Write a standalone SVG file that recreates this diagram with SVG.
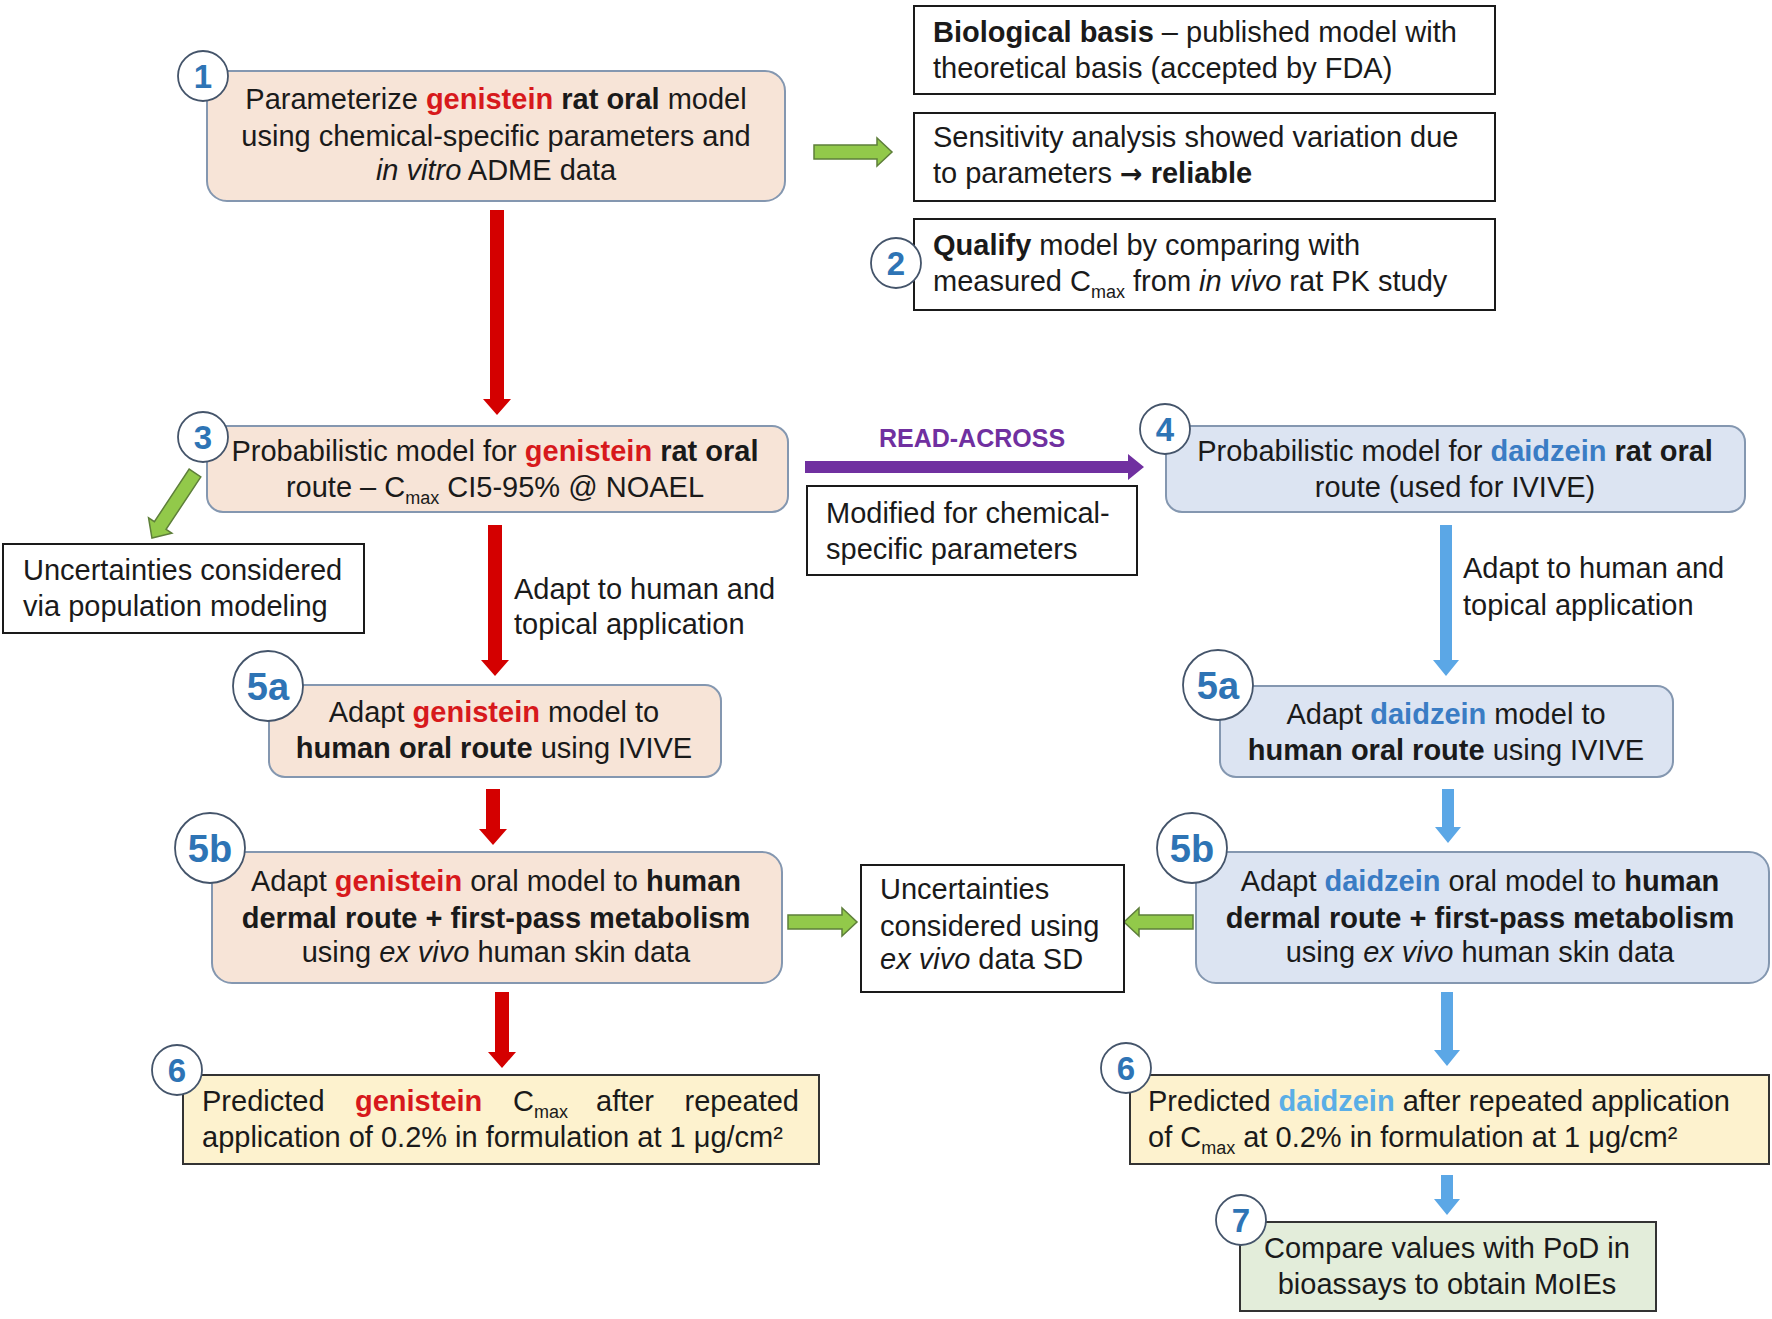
<svg xmlns="http://www.w3.org/2000/svg" width="1772" height="1319" viewBox="0 0 1772 1319">
<style>
  text { font-family: "Liberation Sans", Arial, sans-serif; font-size: 29px; fill: #1a1a1a; }
  .b { font-weight: bold; }
  .i { font-style: italic; }
  .gen { font-weight: bold; fill: #D7191C; }
  .dai { font-weight: bold; fill: #3A7CC4; }
  .dai2 { font-weight: bold; fill: #5AAEE6; }
  .sub { font-size: 18px; }
  .gbox { fill: #F7E4D7; stroke: #8497B0; stroke-width: 2; }
  .dbox { fill: #DCE4F2; stroke: #8497B0; stroke-width: 2; }
  .wbox { fill: #FFFFFF; stroke: #1a1a1a; stroke-width: 2; }
  .ybox { fill: #FDF2CE; stroke: #333333; stroke-width: 2; }
  .lbox { fill: #E3EDDA; stroke: #333333; stroke-width: 2; }
  .circ { fill: #FFFFFF; stroke: #44546A; stroke-width: 1.8; }
  .num { font-weight: bold; fill: #2E74B5; font-size: 33px; text-anchor: middle; }
  .num2 { font-weight: bold; fill: #2E74B5; font-size: 38px; text-anchor: middle; }
  .red { fill: #D40000; }
  .blue { fill: #5BA7E6; }
  .green { fill: #92C94A; stroke: #5E7F3A; stroke-width: 1.5; }
  .purple { fill: #7030A0; }
  .mid { text-anchor: middle; }
</style>

<g id="connectors">
  <!-- red arrows -->
  <polygon class="red" points="490,210 504,210 504,399 511,399 497,415 483,399 490,399"/>
  <polygon class="red" points="488,525 502,525 502,660 509,660 495,676 481,660 488,660"/>
  <polygon class="red" points="486,789 500,789 500,829 507,829 493,845 479,829 486,829"/>
  <polygon class="red" points="495,992 509,992 509,1052 516,1052 502,1068 488,1052 495,1052"/>
  <!-- blue arrows -->
  <polygon class="blue" points="1440,525 1452,525 1452,660 1459,660 1446,676 1433,660 1440,660"/>
  <polygon class="blue" points="1442,789 1454,789 1454,827 1461,827 1448,843 1435,827 1442,827"/>
  <polygon class="blue" points="1441,992 1453,992 1453,1050 1460,1050 1447,1066 1434,1050 1441,1050"/>
  <polygon class="blue" points="1441,1175 1453,1175 1453,1199 1460,1199 1447,1215 1434,1199 1441,1199"/>
  <!-- purple read-across -->
  <polygon class="purple" points="805,461 1128,461 1128,454 1144,467 1128,480 1128,473 805,473"/>
  <text x="972" y="447" class="b mid" style="fill:#7030A0;font-size:25px">READ-ACROSS</text>
  <!-- green arrows -->
  <polygon class="green" points="814,145 877,145 877,138 892,152 877,166 877,159 814,159"/>
  <polygon class="green" transform="translate(195,473) rotate(123.5)" points="0,-7 63,-7 63,-14 78,0 63,14 63,7 0,7"/>
  <polygon class="green" points="788,915 842,915 842,908 857,922 842,936 842,929 788,929"/>
  <polygon class="green" points="1193,915 1139,915 1139,908 1124,922 1139,936 1139,929 1193,929"/>
</g>

<g id="node1">
  <rect class="gbox" x="207" y="71" width="578" height="130" rx="20"/>
  <text x="496" y="109" class="mid">Parameterize <tspan class="gen">genistein</tspan> <tspan class="b">rat oral</tspan> model</text>
  <text x="496" y="146" class="mid">using chemical-specific parameters and</text>
  <text x="496" y="180" class="mid"><tspan class="i">in vitro</tspan> ADME  data</text>
  <circle class="circ" cx="203" cy="76" r="25"/>
  <text x="203" y="88" class="num">1</text>
</g>

<g id="bio">
  <rect class="wbox" x="914" y="6" width="581" height="88"/>
  <text x="933" y="42"><tspan class="b">Biological basis</tspan> – published model with</text>
  <text x="933" y="78">theoretical basis (accepted by FDA)</text>
</g>

<g id="sens">
  <rect class="wbox" x="914" y="113" width="581" height="88"/>
  <text x="933" y="147">Sensitivity analysis showed variation due</text>
  <text x="933" y="183">to parameters <tspan class="b" style="font-family:'DejaVu Sans',sans-serif;font-size:27px">→</tspan> <tspan class="b">reliable</tspan></text>
</g>

<g id="node2">
  <rect class="wbox" x="914" y="219" width="581" height="91"/>
  <text x="933" y="255"><tspan class="b">Qualify</tspan> model by comparing with</text>
  <text x="933" y="291">measured C<tspan class="sub" dy="7">max</tspan><tspan dy="-7"> from </tspan><tspan class="i">in vivo</tspan> rat PK study</text>
  <circle class="circ" cx="896" cy="263" r="25"/>
  <text x="896" y="275" class="num">2</text>
</g>

<g id="node3">
  <rect class="gbox" x="207" y="426" width="581" height="86" rx="16"/>
  <text x="495" y="461" class="mid">Probabilistic model for <tspan class="gen">genistein</tspan> <tspan class="b">rat oral</tspan></text>
  <text x="495" y="497" class="mid">route – C<tspan class="sub" dy="7">max</tspan><tspan dy="-7"> CI5-95% @ NOAEL</tspan></text>
  <circle class="circ" cx="203" cy="437" r="25"/>
  <text x="203" y="449" class="num">3</text>
</g>

<g id="popunc">
  <rect class="wbox" x="3" y="544" width="361" height="89"/>
  <text x="23" y="580">Uncertainties considered</text>
  <text x="23" y="616">via population modeling</text>
</g>

<g id="modified">
  <rect class="wbox" x="807" y="486" width="330" height="89"/>
  <text x="826" y="523">Modified for chemical-</text>
  <text x="826" y="559">specific parameters</text>
</g>

<g id="node4">
  <rect class="dbox" x="1166" y="426" width="579" height="86" rx="16"/>
  <text x="1455" y="461" class="mid">Probabilistic model for <tspan class="dai">daidzein</tspan> <tspan class="b">rat oral</tspan></text>
  <text x="1455" y="497" class="mid">route (used for IVIVE)</text>
  <circle class="circ" cx="1165" cy="429" r="25"/>
  <text x="1165" y="441" class="num">4</text>
</g>

<g id="labels">
  <text x="514" y="599">Adapt to human and</text>
  <text x="514" y="634">topical application</text>
  <text x="1463" y="578">Adapt to human and</text>
  <text x="1463" y="615">topical application</text>
</g>

<g id="node5a-gen">
  <rect class="gbox" x="269" y="685" width="452" height="92" rx="16"/>
  <text x="494" y="722" class="mid">Adapt <tspan class="gen">genistein</tspan> model to</text>
  <text x="494" y="758" class="mid"><tspan class="b">human oral route</tspan> using IVIVE</text>
  <circle class="circ" cx="268" cy="686" r="35"/>
  <text x="268" y="700" class="num2">5a</text>
</g>

<g id="node5a-dai">
  <rect class="dbox" x="1220" y="686" width="453" height="91" rx="16"/>
  <text x="1446" y="724" class="mid">Adapt <tspan class="dai">daidzein</tspan> model to</text>
  <text x="1446" y="760" class="mid"><tspan class="b">human oral route</tspan> using IVIVE</text>
  <circle class="circ" cx="1218" cy="685" r="35"/>
  <text x="1218" y="699" class="num2">5a</text>
</g>

<g id="node5b-gen">
  <rect class="gbox" x="212" y="852" width="570" height="131" rx="20"/>
  <text x="496" y="891" class="mid">Adapt <tspan class="gen">genistein</tspan> oral model to <tspan class="b">human</tspan></text>
  <text x="496" y="928" class="mid b">dermal route + first-pass metabolism</text>
  <text x="496" y="962" class="mid">using <tspan class="i">ex vivo</tspan> human skin data</text>
  <circle class="circ" cx="210" cy="848" r="35"/>
  <text x="210" y="862" class="num2">5b</text>
</g>

<g id="node5b-dai">
  <rect class="dbox" x="1196" y="852" width="573" height="131" rx="20"/>
  <text x="1480" y="891" class="mid">Adapt <tspan class="dai">daidzein</tspan> oral model to <tspan class="b">human</tspan></text>
  <text x="1480" y="928" class="mid b">dermal route + first-pass metabolism</text>
  <text x="1480" y="962" class="mid">using <tspan class="i">ex vivo</tspan> human skin data</text>
  <circle class="circ" cx="1192" cy="848" r="35"/>
  <text x="1192" y="862" class="num2">5b</text>
</g>

<g id="sdunc">
  <rect class="wbox" x="861" y="865" width="263" height="127"/>
  <text x="880" y="899">Uncertainties</text>
  <text x="880" y="936">considered using</text>
  <text x="880" y="969"><tspan class="i">ex vivo</tspan> data SD</text>
</g>

<g id="node6-gen">
  <rect class="ybox" x="183" y="1075" width="636" height="89"/>
  <text x="202" y="1111">Predicted</text>
  <text x="355" y="1111" class="gen">genistein</text>
  <text x="513" y="1111">C<tspan class="sub" dy="7">max</tspan></text>
  <text x="596" y="1111">after</text>
  <text x="799" y="1111" style="text-anchor:end">repeated</text>
  <text x="202" y="1147">application of 0.2% in formulation at 1 μg/cm²</text>
  <circle class="circ" cx="177" cy="1070" r="25"/>
  <text x="177" y="1082" class="num">6</text>
</g>

<g id="node6-dai">
  <rect class="ybox" x="1130" y="1075" width="639" height="89"/>
  <text x="1148" y="1111">Predicted <tspan class="dai2">daidzein</tspan> after repeated application</text>
  <text x="1148" y="1147">of C<tspan class="sub" dy="7">max</tspan><tspan dy="-7"> at 0.2% in formulation at 1 μg/cm²</tspan></text>
  <circle class="circ" cx="1126" cy="1068" r="25"/>
  <text x="1126" y="1080" class="num">6</text>
</g>

<g id="node7">
  <rect class="lbox" x="1240" y="1222" width="416" height="89"/>
  <text x="1447" y="1258" class="mid">Compare values with PoD in</text>
  <text x="1447" y="1294" class="mid">bioassays to obtain MoIEs</text>
  <circle class="circ" cx="1241" cy="1220" r="25"/>
  <text x="1241" y="1232" class="num">7</text>
</g>
</svg>
